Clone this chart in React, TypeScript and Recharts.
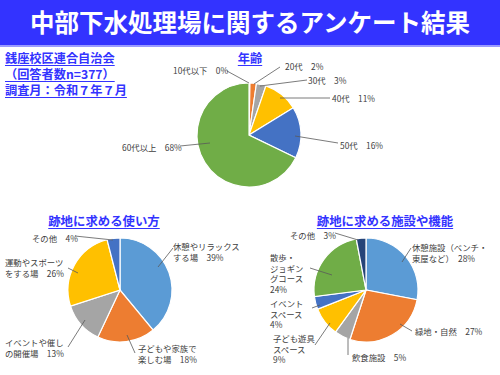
import React from 'react';
import { PieChart, Pie, Cell } from 'recharts';

// ---- Data ----
const ageCategories = ['10代以下', '20代', '30代', '40代', '50代', '60代以上'];
const ageValues = [0.3, 2, 3, 11, 16, 68];

const usageCategories = ['休憩やリラックスする場', '子どもや家族で楽しむ場', 'イベントや催しの開催場', '運動やスポーツをする場', 'その他'];
const usageValues = [39, 18, 13, 26, 4];

const facilityCategories = ['休憩施設（ベンチ・東屋など）', '緑地・自然', '飲食施設', '子ども遊具スペース', 'イベントスペース', '散歩・ジョギングコース', 'その他'];
const facilityValues = [28, 27, 5, 9, 4, 24, 3];

const mainTitle = '中部下水処理場に関するアンケート結果';
const headerLines = ['銭座校区連合自治会', '（回答者数n=377）', '調査月：令和７年７月'];
const ageTitle = '年齢';
const usageTitle = '跡地に求める使い方';
const facilityTitle = '跡地に求める施設や機能';

// ---- Styles / layout (not data) ----
const BLUE = '#3333FF';
const LABEL_COLOR = '#404040';
const FONT = '"Noto Sans CJK JP", "Noto Sans", sans-serif';

const ageColors = ['#5B9BD5', '#ED7D31', '#A5A5A5', '#FFC000', '#4472C4', '#70AD47'];
const usageColors = ['#5B9BD5', '#ED7D31', '#A5A5A5', '#FFC000', '#4472C4'];
const facilityColors = ['#5B9BD5', '#ED7D31', '#A5A5A5', '#FFC000', '#4472C4', '#70AD47', '#264478'];

type LabelLayout = { dx: number; dy: number; breaks: number[]; pctNewLine?: boolean; line: [number, number, number, number] };

const ageLayout: LabelLayout[] = [
  { dx: -76, dy: -65, breaks: [], line: [-22, -64, 0, -52] },
  { dx: 36, dy: -69, breaks: [], line: [31, -68, 5, -51] },
  { dx: 59, dy: -55, breaks: [], line: [58, -55, 11, -49] },
  { dx: 83, dy: -37, breaks: [], line: [81, -37, 31, -37] },
  { dx: 91, dy: 10, breaks: [], line: [89, 8, 46, 1] },
  { dx: -127, dy: 12, breaks: [], line: [-69, 11, -39, 8] },
];
const usageLayout: LabelLayout[] = [
  { dx: 53, dy: -44, breaks: [8], line: [53, -42, 38, -23] },
  { dx: 18, dy: 58, breaks: [7], line: [15, 63, 7, 45] },
  { dx: -115, dy: 52, breaks: [7], line: [-52, 57, -35, 30] },
  { dx: -115, dy: -28, breaks: [7], line: [-52, -22, -42, -17] },
  { dx: -88, dy: -52, breaks: [], line: [-45, -54, -7, -50] },
];
const facilityLayout: LabelLayout[] = [
  { dx: 46, dy: -43, breaks: [9], line: [45, -42, 36, -28] },
  { dx: 49, dy: 41, breaks: [], line: [46, 41, 34, 34] },
  { dx: -14, dy: 67, breaks: [], line: [-18, 48, -18, 65] },
  { dx: -93, dy: 48, breaks: [5], pctNewLine: true, line: [-51, 55, -36, 33] },
  { dx: -96, dy: 13, breaks: [4], pctNewLine: true, line: [-54, 18, -46, 15] },
  { dx: -96, dy: -33, breaks: [3, 7], pctNewLine: true, line: [-56, -22, -34, -15] },
  { dx: -76, dy: -55, breaks: [], line: [-31, -57, -8, -50] },
];

const toData = (cats: string[], vals: number[]) => cats.map((name, i) => ({ name, value: vals[i] }));
const ageData = toData(ageCategories, ageValues);
const usageData = toData(usageCategories, usageValues);
const facilityData = toData(facilityCategories, facilityValues);

const splitLines = (name: string, breaks: number[]) => {
  const out: string[] = [];
  let prev = 0;
  for (const b of breaks) {
    out.push(name.slice(prev, b));
    prev = b;
  }
  out.push(name.slice(prev));
  return out;
};

const makeLabel = (layout: LabelLayout[], cx: number, cy: number) => (props: any) => {
  const i = props.index;
  const l = layout[i];
  if (!l) return null;
  const pct = `${Math.round(props.value)}%`;
  const lines = splitLines(props.name ?? props.payload?.name ?? '', l.breaks);
  if (l.pctNewLine) lines.push(pct);
  else lines[lines.length - 1] = lines[lines.length - 1] + '　' + pct;
  const lh = 10.7;
  return (
    <g key={`lbl-${i}`}>
      <line
        x1={cx + l.line[0]}
        y1={cy + l.line[1]}
        x2={cx + l.line[2]}
        y2={cy + l.line[3]}
        stroke="#595959"
        strokeWidth={0.8}
      />
      <text x={cx + l.dx} y={cy + l.dy} fill={LABEL_COLOR} fontSize={8.4} fontFamily={FONT} dominantBaseline="central" textAnchor="start">
        {lines.map((t, k) => (
          <tspan key={k} x={cx + l.dx} y={cy + l.dy + k * lh}>
            {t}
          </tspan>
        ))}
      </text>
    </g>
  );
};

const AGE_C = { cx: 249, cy: 135 };
const USE_C = { cx: 120, cy: 290 };
const FAC_C = { cx: 366, cy: 290 };
const R = 52;

const titleStyle = (cx: number, cy: number, size: number): React.CSSProperties => ({
  position: 'absolute',
  left: cx - 150,
  width: 300,
  top: cy - size * 0.6,
  lineHeight: `${size * 1.2}px`,
  fontSize: size,
  fontWeight: 700,
  color: BLUE,
  textAlign: 'center',
  textDecoration: 'underline',
  textUnderlineOffset: 2,
  whiteSpace: 'nowrap',
});

export default function App() {
  return (
    <div style={{ position: 'absolute', left: 0, top: 0, width: 500, height: 375, background: '#fff', fontFamily: FONT, overflow: 'hidden' }}>
      <div
        style={{
          position: 'absolute',
          left: 0,
          top: 0,
          width: 500,
          height: 45,
          background: BLUE,
          borderBottom: '2px solid #9a9aff',
          color: '#fff',
          fontWeight: 700,
          fontSize: 24.5,
          lineHeight: '43px',
          textAlign: 'center',
          whiteSpace: 'nowrap',
        }}
      >
        {mainTitle}
      </div>
      <div
        style={{
          position: 'absolute',
          left: 5,
          top: 57.5 - 8,
          lineHeight: '16px',
          fontSize: 12.2,
          fontWeight: 700,
          color: BLUE,
          textDecoration: 'underline',
          textUnderlineOffset: 2,
          whiteSpace: 'nowrap',
        }}
      >
        {headerLines.map((t, k) => (
          <React.Fragment key={k}>
            {k > 0 && <br />}
            {t}
          </React.Fragment>
        ))}
      </div>
      <div style={titleStyle(250, 58, 12.2)}>{ageTitle}</div>
      <div style={titleStyle(104, 221, 12.4)}>{usageTitle}</div>
      <div style={titleStyle(385, 221, 12.4)}>{facilityTitle}</div>
      <div style={{ position: 'absolute', left: 0, top: 0 }}>
        <PieChart width={500} height={375} margin={{ top: 0, right: 0, bottom: 0, left: 0 }}>
          <Pie
            data={ageData}
            dataKey="value"
            nameKey="name"
            cx={AGE_C.cx}
            cy={AGE_C.cy}
            outerRadius={R}
            startAngle={90}
            endAngle={-270}
            stroke="#fff"
            strokeWidth={1.2}
            isAnimationActive={false}
            labelLine={false}
            label={makeLabel(ageLayout, AGE_C.cx, AGE_C.cy)}
          >
            {ageData.map((_, i) => (
              <Cell key={i} fill={ageColors[i]} />
            ))}
          </Pie>
          <Pie
            data={usageData}
            dataKey="value"
            nameKey="name"
            cx={USE_C.cx}
            cy={USE_C.cy}
            outerRadius={R}
            startAngle={90}
            endAngle={-270}
            stroke="#fff"
            strokeWidth={1.2}
            isAnimationActive={false}
            labelLine={false}
            label={makeLabel(usageLayout, USE_C.cx, USE_C.cy)}
          >
            {usageData.map((_, i) => (
              <Cell key={i} fill={usageColors[i]} />
            ))}
          </Pie>
          <Pie
            data={facilityData}
            dataKey="value"
            nameKey="name"
            cx={FAC_C.cx}
            cy={FAC_C.cy}
            outerRadius={R}
            startAngle={90}
            endAngle={-270}
            stroke="#fff"
            strokeWidth={1.2}
            isAnimationActive={false}
            labelLine={false}
            label={makeLabel(facilityLayout, FAC_C.cx, FAC_C.cy)}
          >
            {facilityData.map((_, i) => (
              <Cell key={i} fill={facilityColors[i]} />
            ))}
          </Pie>
        </PieChart>
      </div>
    </div>
  );
}
